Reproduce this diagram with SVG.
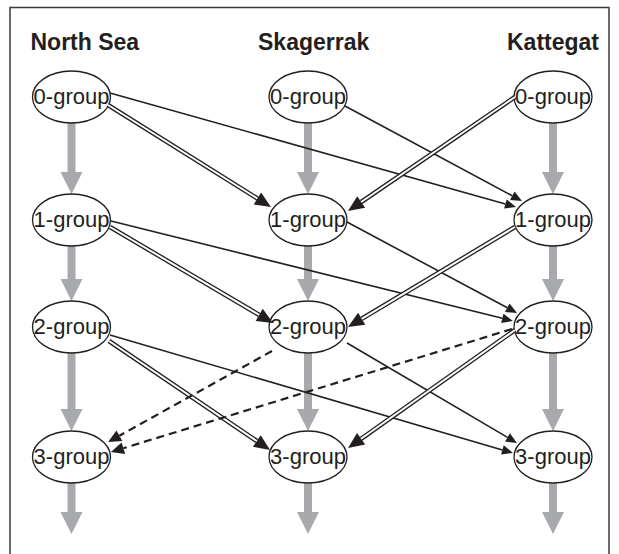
<svg xmlns="http://www.w3.org/2000/svg" width="619" height="554" viewBox="0 0 619 554">
<style>
.frame{fill:none;stroke:#3a3a3a;stroke-width:1.5}
.hdr{font-family:"Liberation Sans",Arial,sans-serif;font-weight:bold;font-size:23px;fill:#231f20}
.node ellipse{fill:#fff;stroke:#231f20;stroke-width:1.3}
.node text{font-family:"Liberation Sans",Arial,sans-serif;font-size:22px;fill:#231f20;text-anchor:middle}
.gray{fill:none;stroke:#a7a9ac;stroke-width:8;marker-end:url(#gh)}
.single{fill:none;stroke:#231f20;stroke-width:1.6;marker-end:url(#sh)}
.dbl{fill:none;stroke:#231f20;stroke-width:4.6;marker-end:url(#dh)}
.dblin{fill:none;stroke:#fff;stroke-width:2}
.dash{fill:none;stroke:#231f20;stroke-width:2.2;stroke-dasharray:8 5;marker-end:url(#ah)}
</style>
<defs>
<marker id="gh" markerUnits="userSpaceOnUse" refX="0" refY="0" viewBox="-1 -12 24 24" markerWidth="24" markerHeight="24" orient="auto" overflow="visible"><path d="M0,-11 L22,0 L0,11 z" fill="#a7a9ac"/></marker>
<marker id="sh" markerUnits="userSpaceOnUse" refX="0" refY="0" viewBox="-1 -6 13 12" markerWidth="13" markerHeight="12" orient="auto" overflow="visible"><path d="M0,-4.8 L11,0 L0,4.8 z" fill="#231f20"/></marker>
<marker id="dh" markerUnits="userSpaceOnUse" refX="0" refY="0" viewBox="-1 -8 18 16" markerWidth="18" markerHeight="16" orient="auto" overflow="visible"><path d="M0,-7 L16,0 L0,7 z" fill="#231f20"/></marker>
<marker id="ah" markerUnits="userSpaceOnUse" refX="0" refY="0" viewBox="-1 -7 15 14" markerWidth="15" markerHeight="14" orient="auto" overflow="visible"><path d="M0,-6 L13,0 L0,6 z" fill="#231f20"/></marker>
</defs>
<rect class="frame" x="10" y="7.5" width="599" height="570"/>
<g id="headers">
<text class="hdr" x="30.5" y="49.5">North Sea</text>
<text class="hdr" x="258" y="49.5">Skagerrak</text>
<text class="hdr" x="507" y="49.5">Kattegat</text>
</g>
<g id="gray-arrows">
<path class="gray" d="M71.5,123 V172"/>
<path class="gray" d="M71.5,246 V279"/>
<path class="gray" d="M71.5,353 V409"/>
<path class="gray" d="M71.5,483 V512"/>
<path class="gray" d="M308,123 V172"/>
<path class="gray" d="M308,246 V279"/>
<path class="gray" d="M308,353 V409"/>
<path class="gray" d="M308,483 V512"/>
<path class="gray" d="M553,123 V172"/>
<path class="gray" d="M553,246 V279"/>
<path class="gray" d="M553,353 V409"/>
<path class="gray" d="M553,483 V512"/>
</g>
<g id="ns0" class="node"><ellipse cx="71.5" cy="97" rx="39" ry="26"/><text x="71.5" y="104">0-group</text></g>
<g id="ns1" class="node"><ellipse cx="71.5" cy="220" rx="39" ry="26"/><text x="71.5" y="227">1-group</text></g>
<g id="ns2" class="node"><ellipse cx="71.5" cy="327" rx="39" ry="26"/><text x="71.5" y="334">2-group</text></g>
<g id="ns3" class="node"><ellipse cx="71.5" cy="457" rx="39" ry="26"/><text x="71.5" y="464">3-group</text></g>
<g id="sk0" class="node"><ellipse cx="308" cy="97" rx="39" ry="26"/><text x="308" y="104">0-group</text></g>
<g id="sk1" class="node"><ellipse cx="308" cy="220" rx="39" ry="26"/><text x="308" y="227">1-group</text></g>
<g id="sk2" class="node"><ellipse cx="308" cy="327" rx="39" ry="26"/><text x="308" y="334">2-group</text></g>
<g id="sk3" class="node"><ellipse cx="308" cy="457" rx="39" ry="26"/><text x="308" y="464">3-group</text></g>
<g id="ka0" class="node"><ellipse cx="553" cy="97" rx="39" ry="26"/><text x="553" y="104">0-group</text></g>
<g id="ka1" class="node"><ellipse cx="553" cy="220" rx="39" ry="26"/><text x="553" y="227">1-group</text></g>
<g id="ka2" class="node"><ellipse cx="553" cy="327" rx="39" ry="26"/><text x="553" y="334">2-group</text></g>
<g id="ka3" class="node"><ellipse cx="553" cy="457" rx="39" ry="26"/><text x="553" y="464">3-group</text></g>
<g id="connectors">
<path class="single" d="M110,93 L505.4,204"/>
<path class="single" d="M345,106 L512.3,195.8"/>
<path class="single" d="M111,221 L502.3,318.3"/>
<path class="single" d="M347,222 L507.3,307.8"/>
<path class="single" d="M110,335 L502.4,449.9"/>
<path class="single" d="M347,343 L507.5,437.4"/>
<path class="dbl" d="M108,105 L257.4,198.5"/><path class="dblin" d="M108,105 L257.4,198.5"/>
<path class="dbl" d="M515,97 L361.2,202"/><path class="dblin" d="M515,97 L361.2,202"/>
<path class="dbl" d="M110,227 L259.2,314.9"/><path class="dblin" d="M110,227 L259.2,314.9"/>
<path class="dbl" d="M515,227 L361.7,318.8"/><path class="dblin" d="M515,227 L361.7,318.8"/>
<path class="dbl" d="M109,341 L256.8,441"/><path class="dblin" d="M109,341 L256.8,441"/>
<path class="dbl" d="M515,330 L361.1,438.8"/><path class="dblin" d="M515,330 L361.1,438.8"/>
<path class="dash" d="M272,351 L119.4,435.7"/>
<path class="dash" d="M512,329 L123.4,448.2"/>
</g>
</svg>
